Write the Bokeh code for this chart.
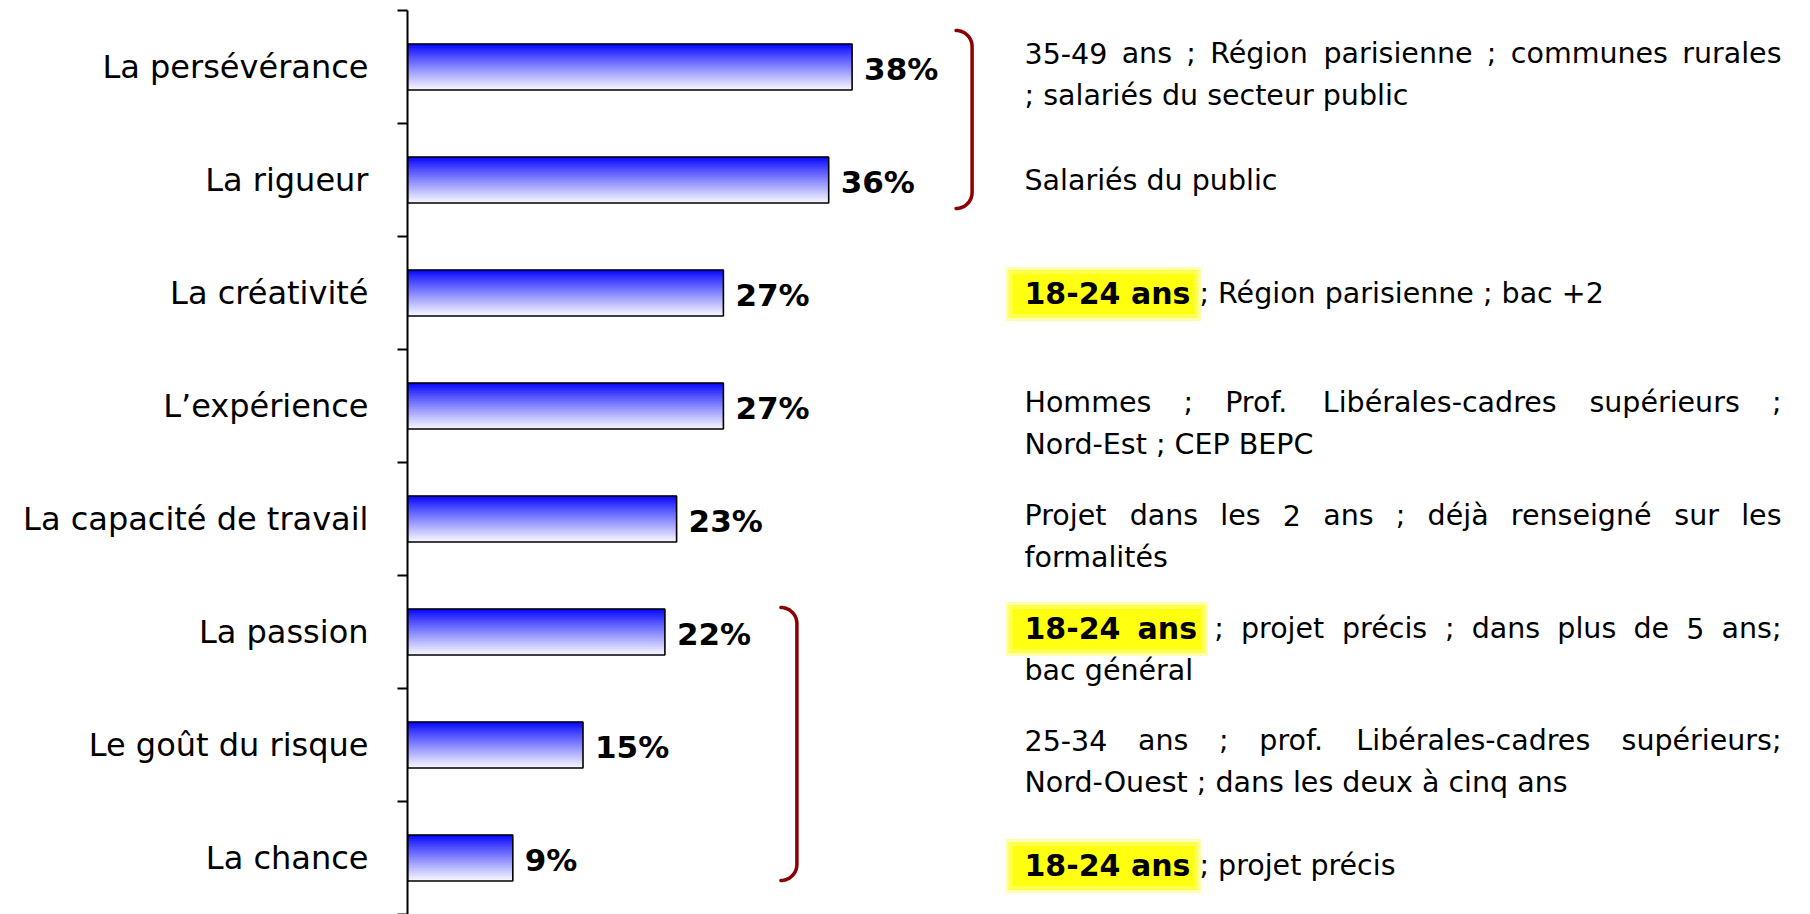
import numpy as np
from bokeh.plotting import figure
from bokeh.models import Range1d, FixedTicker
from bokeh.core.properties import value
from bokeh.embed import file_html
from bokeh.resources import INLINE

# ---------------- data ----------------
categories = ["La persévérance", "La rigueur", "La créativité", "L’expérience",
              "La capacité de travail", "La passion", "Le goût du risque", "La chance"]
values = [38, 36, 27, 27, 23, 22, 15, 9]
value_labels = ["38%", "36%", "27%", "27%", "23%", "22%", "15%", "9%"]

profile_highlight = ["", "", "18-24 ans", "", "", "18-24 ans", "", "18-24 ans"]
profile_line1 = [
    "35-49 ans ; Région parisienne ; communes rurales",
    "Salariés du public",
    "; Région parisienne ; bac +2",
    "Hommes ; Prof. Libérales-cadres supérieurs ;",
    "Projet dans les 2 ans ; déjà renseigné sur les",
    "; projet précis ; dans plus de 5 ans;",
    "25-34 ans ; prof. Libérales-cadres supérieurs;",
    "; projet précis",
]
profile_line2 = [
    "; salariés du secteur public",
    "",
    "",
    "Nord-Est ; CEP BEPC",
    "formalités",
    "bac général",
    "Nord-Ouest ; dans les deux à cinq ans",
    "",
]
bracket_groups = [[0, 1], [5, 7]]

# ---------------- layout (pixels) ----------------
FIG_W, FIG_H = 1800, 914
LEFT, TOP = 407, 10
FRAME_W = FIG_W - LEFT
FRAME_H = FIG_H - TOP
PX_PER_PCT = 11.7
BAND = 113.0
BAR_H_PX = 46
TEXT_L, TEXT_R = 617, 1374
LINE1_OFF = [-14, 0, 0, -4, -4, -4, -5, 7]
LINE_GAP = 42
REG_SIZE, BOLD_SIZE = 28.5, 30
BRACKET_GAP = [104, 116]
BRACKET_PAD = [(20, 28), (32, 34)]
BRACKET_R = 16
FONT = "DejaVu Sans"


def xd(px):
    return px / PX_PER_PCT


def yd(px):
    return -0.5 + px / BAND


REG_W = {' ': 651, '%': 1946, '+': 1716, ',': 651, '-': 739, '.': 651, ';': 690, ':': 690, '’': 651,
         'A': 1401, 'B': 1405, 'C': 1430, 'D': 1577, 'E': 1294, 'F': 1178, 'G': 1587, 'H': 1540,
         'I': 604, 'J': 604, 'K': 1343, 'L': 1141, 'M': 1767, 'N': 1532, 'O': 1612, 'P': 1235,
         'Q': 1612, 'R': 1423, 'S': 1300, 'T': 1251, 'U': 1499, 'V': 1401, 'W': 2025,
         'a': 1255, 'b': 1300, 'c': 1126, 'd': 1300, 'e': 1260, 'f': 721, 'g': 1300, 'h': 1298,
         'i': 569, 'j': 569, 'k': 1186, 'l': 569, 'm': 1995, 'n': 1298, 'o': 1253, 'p': 1300,
         'q': 1300, 'r': 842, 's': 1067, 't': 803, 'u': 1298, 'v': 1212, 'w': 1675, 'x': 1212,
         'y': 1212, 'z': 1075, 'é': 1260, 'è': 1260, 'à': 1255, 'û': 1298, 'ô': 1253}
for d in "0123456789":
    REG_W[d] = 1303
BOLD_W = {' ': 713, '-': 850, 'a': 1382, 'n': 1458, 's': 1219}
for d in "0123456789":
    BOLD_W[d] = 1425


def tw(s, bold):
    table = BOLD_W if bold else REG_W
    size = BOLD_SIZE if bold else REG_SIZE
    return sum(table.get(ch, 1250) for ch in s) / 2048.0 * size


# ---------------- figure ----------------
p = figure(width=FIG_W, height=FIG_H, title=None,
           x_range=Range1d(0, FRAME_W / PX_PER_PCT),
           y_range=Range1d(yd(FRAME_H), -0.5),
           x_axis_location=None, y_axis_location="left",
           output_backend="svg", toolbar_location=None,
           min_border_left=LEFT, min_border_right=0,
           min_border_top=TOP, min_border_bottom=0,
           background_fill_color="white", border_fill_color="white",
           outline_line_color=None)
p.grid.visible = False

# gradient bars (stacked thin strips), then outline
N = 23
sy, sr, sc = [], [], []
for i, v in enumerate(values):
    for k in range(N):
        t = (k + 0.5) / N
        c = int(round(248 * t ** 0.9))
        sy.append(i + (-BAR_H_PX / 2 + (k + 0.5) * BAR_H_PX / N) / BAND)
        sr.append(v)
        sc.append("#%02x%02x%02x" % (c, c, 255))
p.hbar(y=sy, left=0, right=sr, height=(BAR_H_PX / N + 0.7) / BAND,
       fill_color=sc, line_color=None)
p.hbar(y=list(range(len(values))), left=0, right=values, height=BAR_H_PX / BAND,
       fill_color=None, line_color="black", line_width=1.6)

# value labels
p.text(x=values, y=list(range(len(values))), text=value_labels, x_offset=12, y_offset=2,
       text_font=value(FONT), text_font_style="bold", text_font_size="31px",
       text_baseline="middle", text_align="left", text_color="black")

# brackets
bxs, bys = [], []
th = np.linspace(0, np.pi / 2, 14)
for g, grp in enumerate(bracket_groups):
    gmax = max(values[j] for j in grp)
    x_end = gmax * PX_PER_PCT + BRACKET_GAP[g]
    y_top = BAND * grp[0] + BRACKET_PAD[g][0]
    y_bot = BAND * (grp[-1] + 1) - BRACKET_PAD[g][1]
    xt = x_end + BRACKET_R * np.sin(th)
    yt = y_top + BRACKET_R * (1 - np.cos(th))
    xb = x_end + BRACKET_R * np.sin(th[::-1])
    yb = y_bot - BRACKET_R * (1 - np.cos(th[::-1]))
    xs = np.concatenate([xt, xb])
    ys = np.concatenate([yt, yb])
    bxs.append([xd(v) for v in xs])
    bys.append([yd(v) for v in ys])
p.multi_line(xs=bxs, ys=bys, line_color="#8B0000", line_width=3.5, line_cap="round")

# profile texts (right)
reg_x, reg_y, reg_t = [], [], []
bold_x, bold_y, bold_t = [], [], []
hl = []
space_reg = REG_W[' '] / 2048.0 * REG_SIZE
for i in range(len(categories)):
    ypx1 = BAND * (i + 0.5) + LINE1_OFF[i]
    bold = profile_highlight[i]
    rest = profile_line1[i]
    justify = profile_line2[i] != ""
    bold_end = None
    if justify:
        runs = [(w, True) for w in bold.split()] + [(w, False) for w in rest.split()]
        widths = [tw(w, b) for w, b in runs]
        gap = (TEXT_R - TEXT_L - sum(widths)) / (len(runs) - 1)
        x = TEXT_L
        for (w, b), wd in zip(runs, widths):
            if b:
                bold_x.append(xd(x)); bold_y.append(yd(ypx1)); bold_t.append(w)
                bold_end = x + wd
            else:
                reg_x.append(xd(x)); reg_y.append(yd(ypx1)); reg_t.append(w)
            x += wd + gap
    else:
        x = TEXT_L
        if bold:
            bold_x.append(xd(x)); bold_y.append(yd(ypx1)); bold_t.append(bold)
            bold_end = x + tw(bold, True)
            x = bold_end + space_reg
        reg_x.append(xd(x)); reg_y.append(yd(ypx1)); reg_t.append(rest)
    if bold:
        hl.append((TEXT_L - 14, bold_end + 6, ypx1 + 1))
    if profile_line2[i]:
        reg_x.append(xd(TEXT_L)); reg_y.append(yd(ypx1 + LINE_GAP)); reg_t.append(profile_line2[i])

# yellow highlighter (soft edges with layered rects)
for grow, alpha in [(10, 0.35), (4, 0.6), (-4, 1.0)]:
    p.rect(x=[xd((a + b) / 2) for a, b, _ in hl], y=[yd(c) for _, _, c in hl],
           width=[(b - a + grow) / PX_PER_PCT for a, b, _ in hl],
           height=(44 + grow) / BAND, fill_color="#FFFF10", fill_alpha=alpha, line_color=None)

p.text(x=reg_x, y=reg_y, text=reg_t, text_font=value(FONT), text_font_size=f"{REG_SIZE}px",
       text_baseline="middle", text_align="left", text_color="black")
p.text(x=bold_x, y=bold_y, text=bold_t, text_font=value(FONT), text_font_style="bold",
       text_font_size=f"{BOLD_SIZE}px", text_baseline="middle", text_align="left", text_color="black")

# y axis: labels at band centres, tick marks at band boundaries
ax = p.yaxis[0]
ax.ticker = FixedTicker(ticks=list(range(len(categories))),
                        minor_ticks=[i - 0.5 for i in range(len(categories) + 1)])
ax.major_label_overrides = {i: c for i, c in enumerate(categories)}
ax.major_tick_line_color = None
ax.major_tick_out = 0
ax.major_tick_in = 0
ax.minor_tick_line_color = "black"
ax.minor_tick_line_width = 2
ax.minor_tick_out = 10
ax.minor_tick_in = 0
ax.axis_line_color = "black"
ax.axis_line_width = 2
ax.major_label_standoff = 29
ax.major_label_text_font = FONT
ax.major_label_text_font_size = "32px"
ax.major_label_text_color = "black"
ax.major_label_text_font_style = "normal"

open("out.html", "w").write(file_html(p, INLINE))
